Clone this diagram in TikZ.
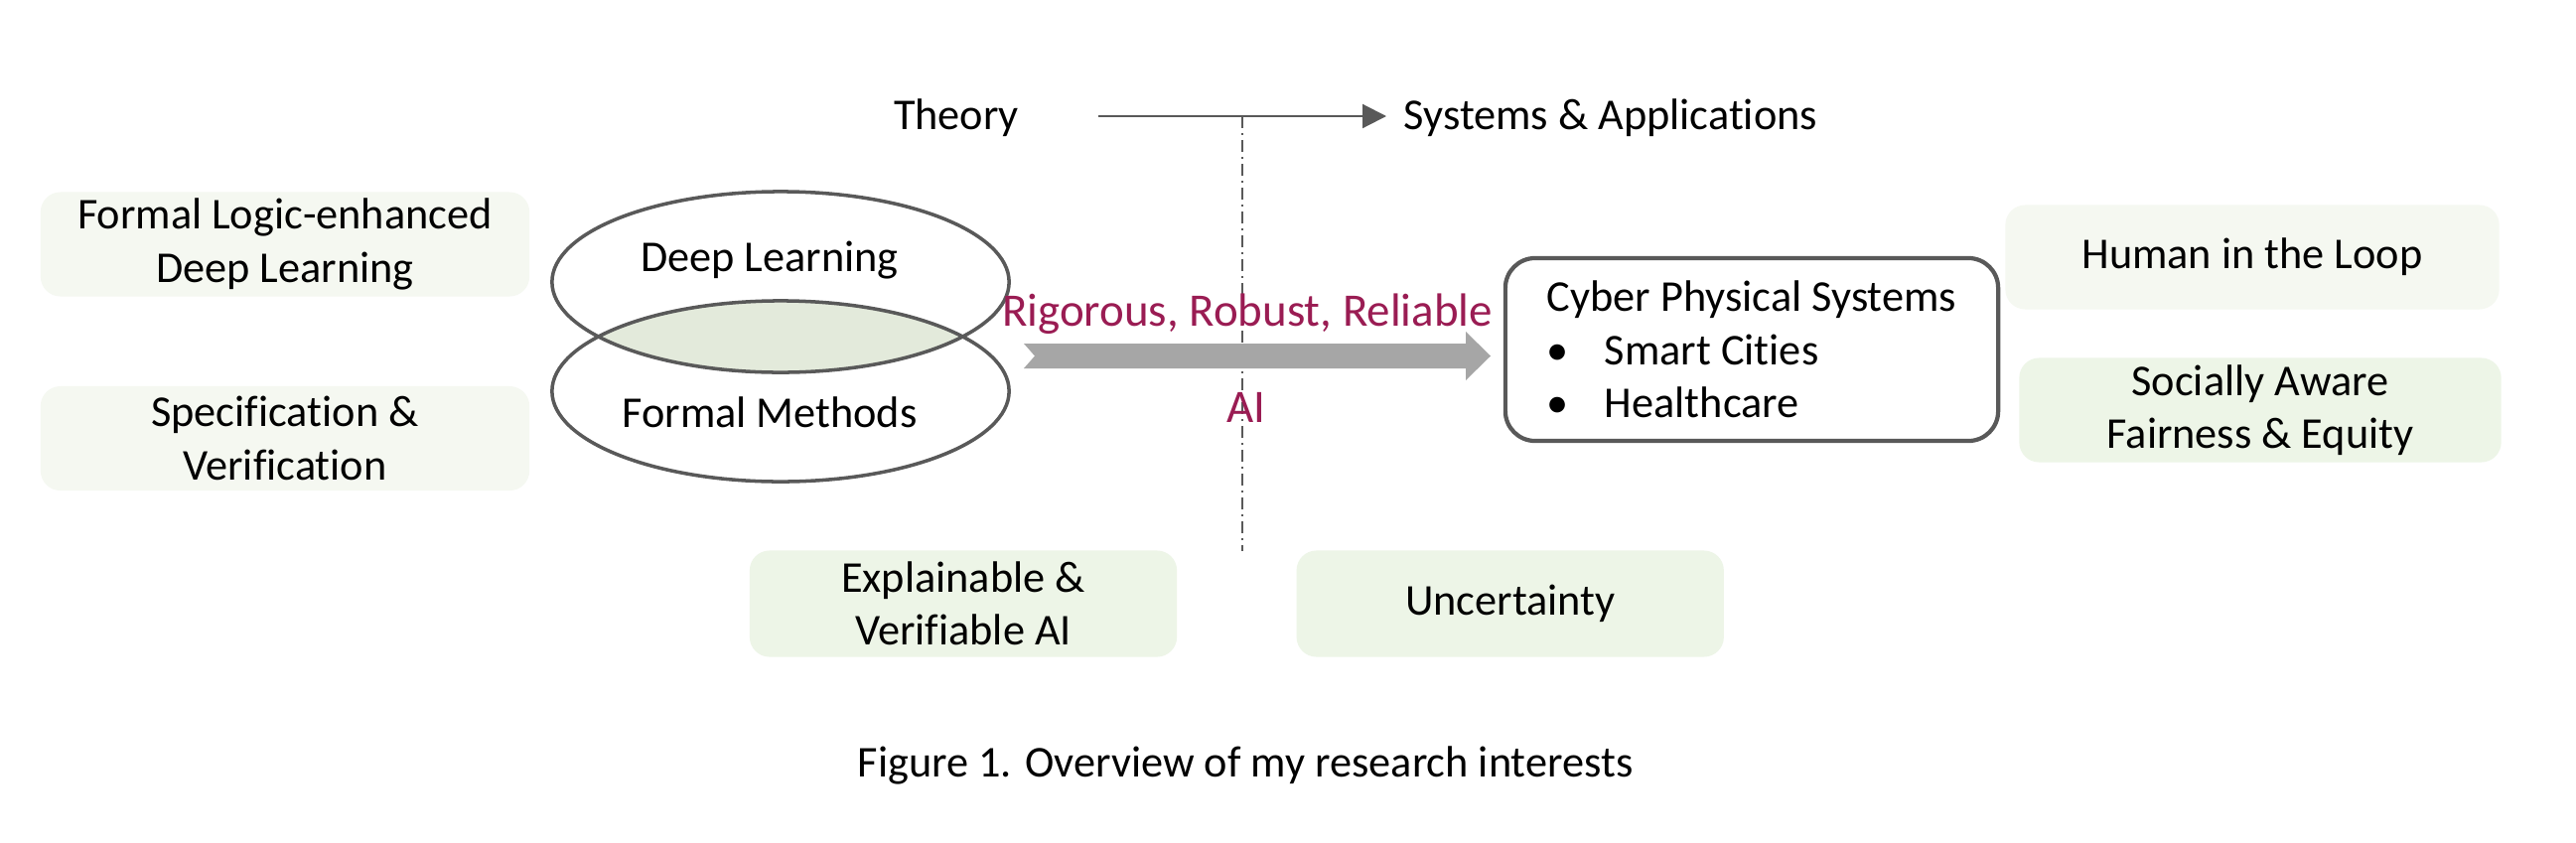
\documentclass[tikz,border=0pt]{standalone}
\usepackage{fontspec}
\setmainfont{Carlito}[Ligatures=NoCommon]
\usetikzlibrary{positioning,shapes.geometric,arrows.meta}
\definecolor{linegrey}{HTML}{595959}
\definecolor{arrowgrey}{HTML}{A6A6A6}
\definecolor{berry}{HTML}{9A1C53}
\definecolor{overlapgreen}{HTML}{E3EADB}
\definecolor{paleleft}{HTML}{F5F8F1}
\definecolor{palegreen}{HTML}{EDF5E7}
\newcommand{\itembullet}{\makebox[0.58cm][l]{\textbullet}}
\begin{document}
\begin{tikzpicture}[x=0.01cm,y=-0.01cm,
    every node/.style={font=\fontsize{12.6}{15.2}\selectfont, inner sep=0pt},
    softbox/.style={rounded corners=0.2cm, minimum height=1.05cm, align=center},
    oval/.style={ellipse, draw=linegrey, line width=1pt, minimum width=4.6cm, minimum height=1.82cm},
    redtext/.style={text=berry, font=\fontsize{13.35}{16}\selectfont}]
    \useasboundingbox (0,0) rectangle (2594,848);
    \fill[white] (0,0) rectangle (2594,848);
    % theory -> systems
    \node[anchor=base] (th) at (963,130) {Theory};
    \node[anchor=base west] (sa) at (1413,130) {Systems \& Applications};
    \coordinate (a0) at (1106,117);
    \coordinate (a1) at (1396,117);
    \draw[linegrey, line width=0.6pt, -{Triangle[length=0.24cm,width=0.24cm]}] (a0) -- (a1);
    \coordinate (d0) at (1251,117);
    \coordinate (d1) at (1251,555);
    \draw[linegrey, line width=0.5pt, dash pattern=on 0.12cm off 0.05cm on 0.02cm off 0.05cm] (d0) -- (d1);
    % left column
    \node[softbox, fill=paleleft, minimum width=4.92cm] (b1) at (287,246) {Formal Logic-enhanced\\Deep Learning};
    \node[softbox, fill=paleleft, minimum width=4.92cm, below=0.89cm of b1] (b2) {Specification \&\\Verification};
    % overlapping ovals
    \begin{scope}
      \clip (786,284) ellipse [x radius=2.3cm, y radius=0.91cm];
      \fill[overlapgreen] (786,394) ellipse [x radius=2.3cm, y radius=0.91cm];
    \end{scope}
    \node[oval] (e1) at (786,284) {};
    \node[oval] (e2) at (786,394) {};
    \node[anchor=base] (dl) at (775,273) {Deep Learning};
    \node[anchor=base] (fm) at (775,430) {Formal Methods};
    % big arrow
    \fill[arrowgrey] (1031,346) -- (1476,346) -- (1476,334) -- (1501,358.5) -- (1476,383)
        -- (1476,371) -- (1031,371) -- (1042,358.5) -- cycle;
    \node[redtext, anchor=base] (rr) at (1256,328) {Rigorous, Robust, Reliable};
    \node[redtext, anchor=base] (ai) at (1255,425) {AI};
    % systems
    \node[draw=linegrey, line width=1.2pt, rounded corners=0.3cm, minimum width=4.96cm,
          minimum height=1.84cm, align=left] (cps) at (1764,352)
          {Cyber Physical Systems\\\itembullet Smart Cities\\\itembullet Healthcare};
    \node[softbox, fill=paleleft, minimum width=4.97cm] (r1) at (2268,259) {Human in the Loop};
    \node[softbox, fill=palegreen, minimum width=4.85cm] (r2) at (2276,413) {Socially Aware\\Fairness \& Equity};
    % bottom
    \node[softbox, fill=palegreen, minimum width=4.3cm, minimum height=1.07cm] (x1) at (970,608) {Explainable \&\\Verifiable AI};
    \node[softbox, fill=palegreen, minimum width=4.3cm, minimum height=1.07cm, right=1.19cm of x1] (x2) {Uncertainty};
    \node[anchor=base] (cap) at (1254,782) {Figure 1. Overview of my research interests};
\end{tikzpicture}
\end{document}
